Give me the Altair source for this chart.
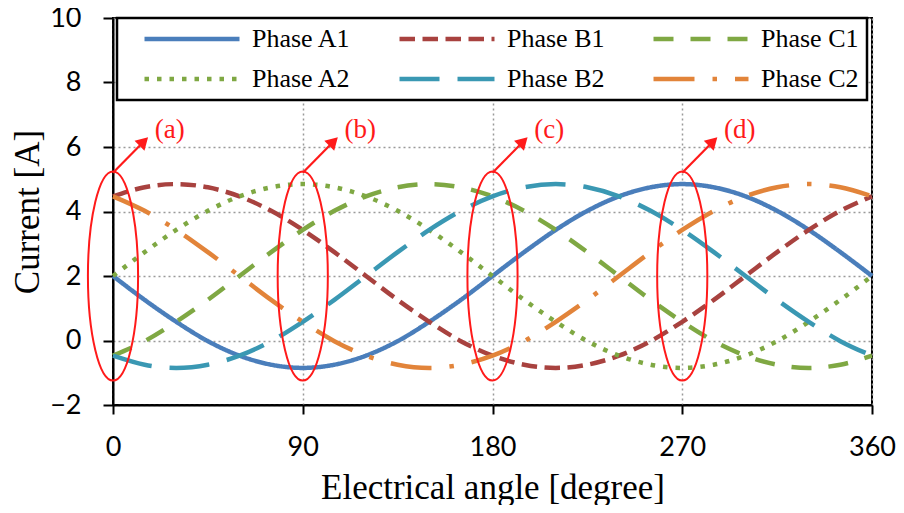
import altair as alt
import pandas as pd

# ---- data ----
angles = [0, 15, 30, 45, 60, 75, 90, 105, 120, 135, 150, 165, 180,
          195, 210, 225, 240, 255, 270, 285, 300, 315, 330, 345, 360]

phase_a1 = [2.00, 1.26, 0.58, -0.02, -0.47, -0.75, -0.85, -0.75, -0.47, -0.02, 0.58, 1.26, 2.00,
            2.74, 3.43, 4.02, 4.47, 4.75, 4.85, 4.75, 4.47, 4.02, 3.43, 2.74, 2.00]
phase_b1 = [4.47, 4.75, 4.85, 4.75, 4.47, 4.02, 3.43, 2.74, 2.00, 1.26, 0.58, -0.02, -0.47,
            -0.75, -0.85, -0.75, -0.47, -0.02, 0.58, 1.26, 2.00, 2.74, 3.43, 4.02, 4.47]
phase_c1 = [-0.47, -0.02, 0.58, 1.26, 2.00, 2.74, 3.43, 4.02, 4.47, 4.75, 4.85, 4.75, 4.47,
            4.02, 3.43, 2.74, 2.00, 1.26, 0.58, -0.02, -0.47, -0.75, -0.85, -0.75, -0.47]
phase_a2 = [2.00, 2.74, 3.43, 4.02, 4.47, 4.75, 4.85, 4.75, 4.47, 4.02, 3.43, 2.74, 2.00,
            1.26, 0.58, -0.02, -0.47, -0.75, -0.85, -0.75, -0.47, -0.02, 0.58, 1.26, 2.00]
phase_b2 = [-0.47, -0.75, -0.85, -0.75, -0.47, -0.02, 0.58, 1.26, 2.00, 2.74, 3.43, 4.02, 4.47,
            4.75, 4.85, 4.75, 4.47, 4.02, 3.43, 2.74, 2.00, 1.26, 0.58, -0.02, -0.47]
phase_c2 = [4.47, 4.02, 3.43, 2.74, 2.00, 1.26, 0.58, -0.02, -0.47, -0.75, -0.85, -0.75, -0.47,
            -0.02, 0.58, 1.26, 2.00, 2.74, 3.43, 4.02, 4.47, 4.75, 4.85, 4.75, 4.47]

series_names = ["Phase A1", "Phase B1", "Phase C1", "Phase A2", "Phase B2", "Phase C2"]
series_values = [phase_a1, phase_b1, phase_c1, phase_a2, phase_b2, phase_c2]

# annotation (circled regions)
mark_angles = [0, 90, 180, 270]
mark_labels = ["(a)", "(b)", "(c)", "(d)"]
ellipse_mid = 2.0
arrow_base = 5.2
arrow_head = 6.17
arrow_shift = 14.6
label_level = 6.52
label_shift = 19.8

x_ticks = [0, 90, 180, 270, 360]
y_ticks = [-2, 0, 2, 4, 6, 8, 10]

# ---- styles ----
colors = ["#4A7EBB", "#A8423F", "#7FA843", "#7FA843", "#3A98B3", "#E2843A"]
dashes = [[1, 0], [15.5, 7.5], [20, 17], [4.5, 8], [40, 18], [41, 18, 4.5, 18]]
RED = "#FF1A1A"
SERIF = "Liberation Serif"
SANS = "Lato"

rows = []
for name, vals in zip(series_names, series_values):
    for a, v in zip(angles, vals):
        rows.append({"angle": a, "current": v, "phase": name})
df = pd.DataFrame(rows)

ann = pd.DataFrame({
    "angle": mark_angles,
    "label": mark_labels,
})
ann["mid"] = ellipse_mid
ann["base"] = arrow_base
ann["head_x"] = ann["angle"] + arrow_shift
ann["head_y"] = arrow_head
ann["lab_x"] = ann["angle"] + label_shift
ann["lab_y"] = label_level

xscale = alt.Scale(domain=[0, 360], nice=False)
yscale = alt.Scale(domain=[-2, 10], nice=False)

xaxis = alt.Axis(values=x_ticks, title="Electrical angle [degree]", format="d",
                 labelFont=SANS, labelFontSize=27, labelColor="black", labelFlush=False,
                 labelPadding=20, tickSize=9, tickWidth=2, tickColor="black",
                 domainColor="black", domainWidth=2,
                 grid=True, gridColor="#9a9a9a", gridDash=[2, 3], gridWidth=1.5,
                 titleFont=SERIF, titleFontSize=35, titleFontWeight="normal",
                 titleColor="black", titlePadding=10)
yaxis = alt.Axis(values=y_ticks, title="Current [A]", format="d",
                 labelFont=SANS, labelFontSize=27, labelColor="black", labelFlush=False,
                 labelPadding=22, tickSize=10, tickWidth=2, tickColor="black",
                 domainColor="black", domainWidth=2,
                 grid=True, gridColor="#9a9a9a", gridDash=[2, 3], gridWidth=1.5,
                 titleFont=SERIF, titleFontSize=35, titleFontWeight="normal",
                 titleColor="black", titlePadding=4)

legend = alt.Legend(title=None, orient="none", legendX=4, legendY=0, columns=3,
                    direction="horizontal", clipHeight=26,
                    symbolType="stroke", symbolSize=9025, symbolStrokeWidth=4.5,
                    labelFont=SERIF, labelFontSize=26, labelColor="black",
                    labelOffset=10, labelLimit=300,
                    columnPadding=29, rowPadding=14, padding=8, symbolOffset=17,
                    strokeColor="black", fillColor="white")

lines = alt.Chart(df).mark_line(strokeWidth=4.5, strokeCap="butt",
                                interpolate="monotone").encode(
    x=alt.X("angle:Q", scale=xscale, axis=xaxis),
    y=alt.Y("current:Q", scale=yscale, axis=yaxis),
    color=alt.Color("phase:N", scale=alt.Scale(domain=series_names, range=colors),
                    sort=series_names, legend=legend),
    strokeDash=alt.StrokeDash("phase:N", scale=alt.Scale(domain=series_names, range=dashes),
                              sort=series_names, legend=legend),
)

ellipse_path = "M0,-1 A0.24,1 0 1,1 0,1 A0.24,1 0 1,1 0,-1 Z"
ellipses = alt.Chart(ann).mark_point(shape=ellipse_path, size=43681, filled=False,
                                      stroke=RED, strokeWidth=2, opacity=1).encode(
    x=alt.X("angle:Q", scale=xscale),
    y=alt.Y("mid:Q", scale=yscale),
)

arrows = alt.Chart(ann).mark_rule(color=RED, strokeWidth=2.2).encode(
    x=alt.X("angle:Q", scale=xscale),
    y=alt.Y("base:Q", scale=yscale),
    x2="head_x:Q",
    y2="head_y:Q",
)

heads = alt.Chart(ann).mark_point(shape="triangle-up", size=196, filled=True,
                                   color=RED, opacity=1, angle=45).encode(
    x=alt.X("head_x:Q", scale=xscale),
    y=alt.Y("head_y:Q", scale=yscale),
)

labels = alt.Chart(ann).mark_text(font=SERIF, fontSize=27, color=RED, align="left",
                                  baseline="middle").encode(
    x=alt.X("lab_x:Q", scale=xscale),
    y=alt.Y("lab_y:Q", scale=yscale),
    text="label:N",
)

chart = alt.layer(lines, ellipses, arrows, heads, labels).properties(
    width=759, height=387,
    autosize=alt.AutoSizeParams(type="none"),
    padding={"left": 105, "top": 10, "right": 24, "bottom": 100},
).configure_view(stroke="black", strokeWidth=2).configure_legend(strokeWidth=2.5)

chart.save("out.html", embed_options={"renderer": "svg", "actions": False})
